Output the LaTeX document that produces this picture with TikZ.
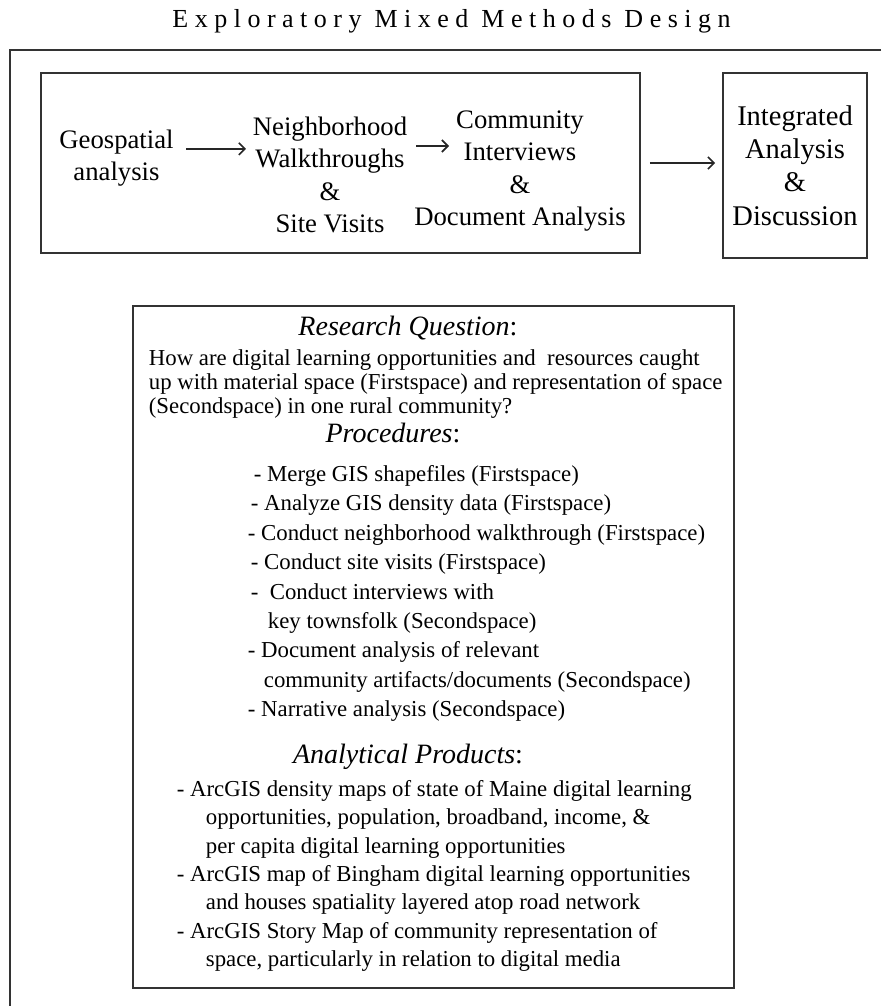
\documentclass[tikz,border=0pt]{standalone}
\usepackage{fontspec}
\setmainfont{Liberation Serif}
\newfontfamily\spacedfont[LetterSpace=25]{Liberation Serif}
\usetikzlibrary{arrows.meta}

\begin{document}
\begin{tikzpicture}[x=1pt,y=-1pt,line width=1.8pt,>={Straight Barb[length=6pt,width=12pt]},
  box/.style={draw=black!80,line width=1.8pt,inner sep=0pt},
  flow/.style={->,line width=1.6pt,black!85},
  stagetxt/.style={align=center,inner sep=0pt,anchor=north,font=\fontsize{26.7}{32.5}\selectfont},
  head/.style={inner sep=0pt,anchor=base,font=\fontsize{28}{30}\selectfont\itshape},
  body/.style={align=left,inner sep=0pt,anchor=north west}]
  \useasboundingbox (0,0) rectangle (881,1006);
  % title and frame
  \node[inner sep=0pt,anchor=base,font=\spacedfont\fontsize{26}{28}\selectfont] (title) at (451.5,28) {Exploratory Mixed Methods Design};
  \draw[black!80] (881,50) -- (10,50) -- (10,1006);
  % stages
  \node[box,minimum width=599pt,minimum height=180pt] (stages) at (340.5,163) {};
  \node[stagetxt] (geo) at (116.5,128.6) {Geospatial\\analysis};
  \node[stagetxt] (walk) at (330,115.6) {Neighborhood\\Walkthroughs\\\&\\Site Visits};
  \node[stagetxt] (comm) at (520,109.6) {Community\\Interviews\\\&\\Document Analysis};
  \node[box,minimum width=144pt,minimum height=185pt,align=center,font=\fontsize{28.5}{33.3}\selectfont] (integ) at (795,165.5) {Integrated\\Analysis\\\&\\Discussion};
  % arrows
  \coordinate (a2) at (449,146);
  \draw[flow,shorten <=12pt,shorten >=6pt] ([yshift=9pt]geo.east) -- ([yshift=9pt]geo.east -| walk.west);
  \draw[flow,shorten <=8pt] (walk.east |- a2) -- (a2);
  \draw[flow,shorten <=9pt,shorten >=7pt] (stages.east) -- (stages.east -| integ.west);
  % research box
  \node[box,minimum width=601pt,minimum height=682pt] (rq) at (433.5,647) {};
  \node[head] (rqhead) at (408,335) {Research Question\upshape:};
  \node[body,font=\fontsize{22.8}{24}\selectfont] (question) at (148,348.6) {How are digital learning opportunities and~ resources caught\\up with material space (Firstspace) and representation of space\\(Secondspace) in one rural community?};
  \node[head] (prochead) at (393,442) {Procedures\upshape:};
  \node[body,font=\fontsize{22.8}{29.4}\selectfont] (procs) at (247,464.6) {\hspace*{6pt}- Merge GIS shapefiles (Firstspace)\\
    \hspace*{3pt}- Analyze GIS density data (Firstspace)\\
    - Conduct neighborhood walkthrough (Firstspace)\\
    \hspace*{3pt}- Conduct site visits (Firstspace)\\
    \hspace*{3pt}-\ \ Conduct interviews with\\
    \hspace*{20pt}key townsfolk (Secondspace)\\
    - Document analysis of relevant\\
    \hspace*{16pt}community artifacts/documents (Secondspace)\\
    - Narrative analysis (Secondspace)};
  \node[head] (prodhead) at (408,763) {Analytical Products\upshape:};
  \node[body,font=\fontsize{22.8}{28.3}\selectfont] (prods) at (176,779.6) {- ArcGIS density maps of state of Maine digital learning\\
    \hspace*{29pt}opportunities, population, broadband, income, \&\\
    \hspace*{29pt}per capita digital learning opportunities\\
    - ArcGIS map of Bingham digital learning opportunities\\
    \hspace*{29pt}and houses spatiality layered atop road network\\
    - ArcGIS Story Map of community representation of\\
    \hspace*{29pt}space, particularly in relation to digital media};
\end{tikzpicture}
\end{document}
